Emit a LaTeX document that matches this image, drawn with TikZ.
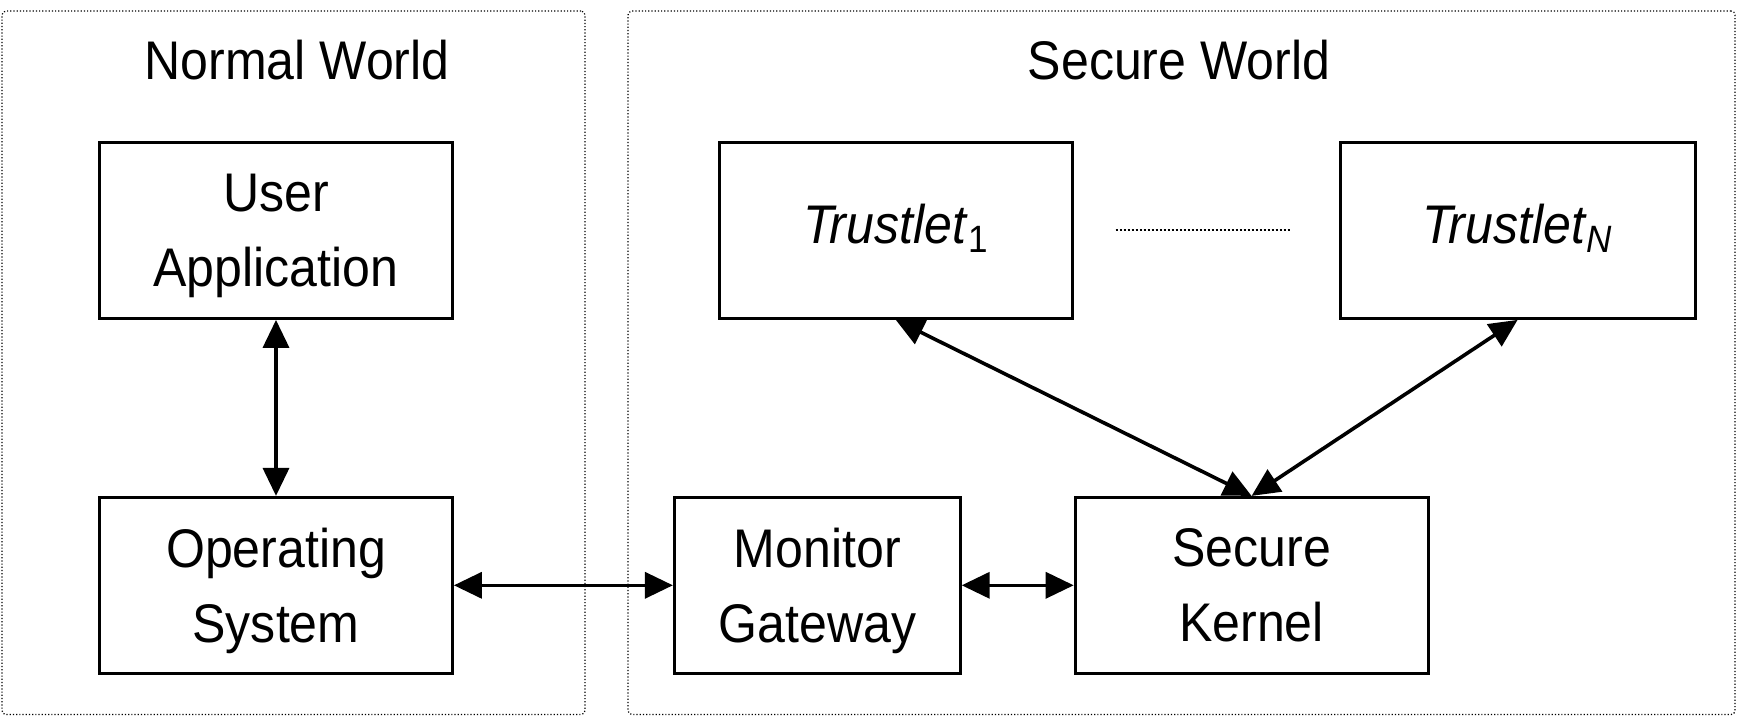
\documentclass[tikz,border=0pt]{standalone}
\usepackage{fontspec}
\setmainfont{Liberation Sans}[FakeStretch=0.92]
\usetikzlibrary{positioning,arrows.meta}

\tikzset{
  block/.style={draw, line width=1.4pt, minimum width=176.5pt, minimum height=88pt, align=center, inner sep=0pt, text depth=0pt},
  world/.style={draw, densely dotted, line width=0.6pt, rounded corners=2pt, inner sep=0pt},
  link/.style={{Triangle[length=14pt,width=13pt]}-{Triangle[length=14pt,width=13pt]}, line width=1.8pt},
}

\begin{document}
\begin{tikzpicture}[font=\fontsize{27.2}{37.5}\selectfont]
\useasboundingbox (0,0) rectangle (868.5pt,-358.5pt);
% the two worlds
\node[world, minimum width=291.5pt, minimum height=351.75pt] (nw) at (146.75pt,-181.4pt) {};
\node[world, minimum width=553.5pt, minimum height=351.75pt] (sw) at (590.75pt,-181.4pt) {};
\node[anchor=base] (nwt) at (148.5pt,-40pt) {Normal World};
\node[anchor=base] (swt) at (589.5pt,-40pt) {Secure World};
% normal world
\node[block] (ua) at (138pt,-115.25pt) {User\\Application};
\node[block, below=88pt of ua] (os) {Operating\\System};
% secure world
\node[block, minimum width=143pt, right=109.5pt of os] (mg) {Monitor\\Gateway};
\node[block, right=56pt of mg] (sk) {Secure\\Kernel};
\node[block, text depth=6.5pt, above left=88pt and 0pt of sk.north west] (t1) {\textit{Trustlet}\textsubscript{1}};
\node[block, text depth=6.5pt, minimum width=177.5pt, right=132.5pt of t1] (tn) {\textit{Trustlet}\textsubscript{\textit{N}}};
\draw[densely dotted, line width=1pt, shorten <=21pt, shorten >=24.5pt] (t1) -- (tn);
% links
\draw[link] (ua) -- (os);
\draw[link] (os) -- (mg);
\draw[link] (mg) -- (sk);
\draw[link] (t1.south) -- (sk.north);
\draw[link] (tn.south) -- (sk.north);
\end{tikzpicture}
\end{document}
